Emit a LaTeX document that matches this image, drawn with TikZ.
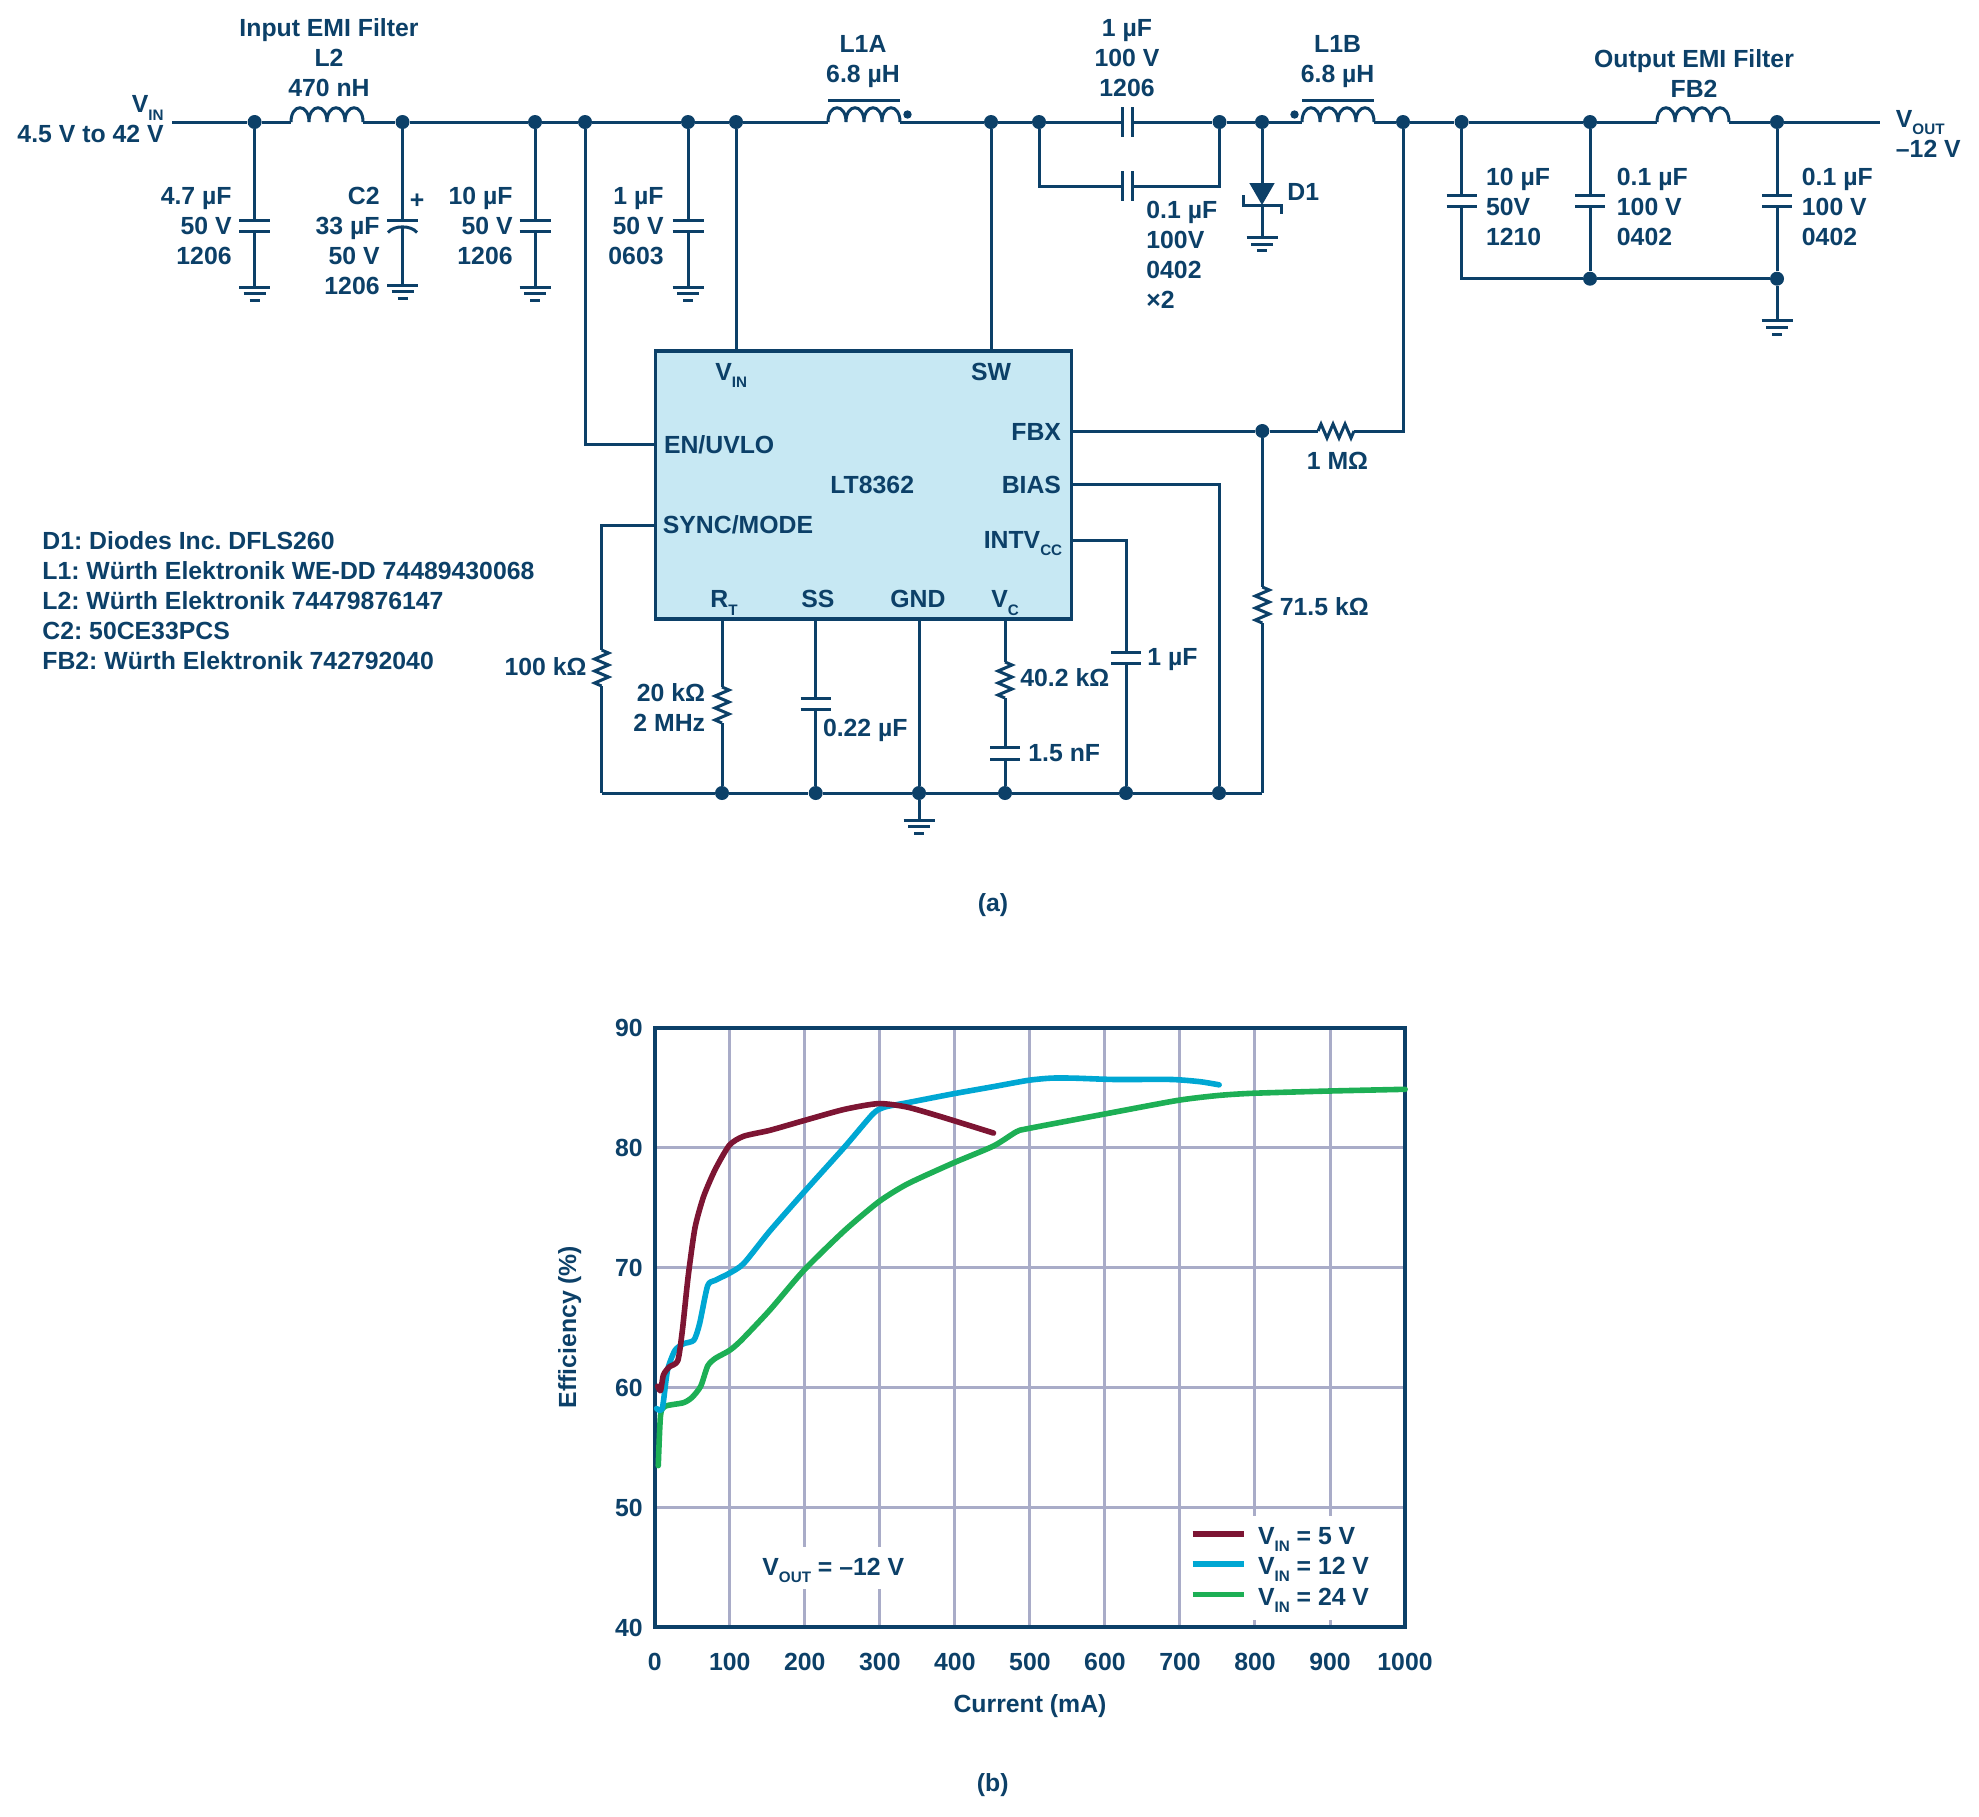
\documentclass[tikz,border=0pt]{standalone}
\usepackage{fontspec}
\setmainfont{Liberation Sans}
\usetikzlibrary{calc}
\definecolor{ink}{HTML}{0C4068}
\definecolor{icfill}{HTML}{C7E8F3}
\definecolor{gridc}{HTML}{A9ACC8}
\definecolor{cfive}{HTML}{7D1533}
\definecolor{ctwelve}{HTML}{00A7D3}
\definecolor{cfour}{HTML}{1DAF55}
\newcommand\SBS[1]{\raisebox{-0.3em}{\fontsize{7.6}{7.6}\selectfont #1}}
\tikzset{
 wire/.style={draw=ink,line width=1.5pt},
 jn/.style={circle,fill=ink,minimum size=7pt,inner sep=0pt},
 lbl/.style={text=ink,inner sep=0pt,font=\bfseries\frenchspacing\fontsize{12.4}{15}\selectfont},
 lr/.style={lbl,anchor=base east,align=right},
 ll/.style={lbl,anchor=base west,align=left},
 lc/.style={lbl,anchor=base,align=center},
 icbox/.style={draw=ink,fill=icfill,line width=1.7pt,minimum width=208pt,minimum height=134pt,inner sep=0pt},
 gridl/.style={draw=gridc,line width=1.5pt},
 curve/.style={line width=2.8pt,line join=round,line cap=round}
}
% vertical capacitor: name, x, plate y1, plate y2, half width
\newcommand\VC[5]{\coordinate (#1-t) at (#2,#3);\coordinate (#1-b) at (#2,#4);
 \draw[wire] (#2-#5,#3) -- (#2+#5,#3) (#2-#5,#4) -- (#2+#5,#4);}
% horizontal capacitor: name, x1, x2, y, half height
\newcommand\HC[5]{\coordinate (#1-l) at (#2,#4);\coordinate (#1-r) at (#3,#4);
 \draw[wire] (#2,#4-#5) -- (#2,#4+#5) (#3,#4-#5) -- (#3,#4+#5);}
% ground: name, x, y
\newcommand\GNDS[3]{\coordinate (#1) at (#2,#3);
 \draw[wire] (#2-15.5,#3) -- (#2+15.5,#3) (#2-11,#3+6.7) -- (#2+11,#3+6.7) (#2-5,#3+13.4) -- (#2+5,#3+13.4);}
% inductor: name, x1, y (72 long)
\newcommand\IND[3]{\coordinate (#1-l) at (#2,#3);
 \draw[wire] (#2,#3) .. controls (#2,#3-19) and (#2+18,#3-19) .. (#2+18,#3)
  .. controls (#2+18,#3-19) and (#2+36,#3-19) .. (#2+36,#3)
  .. controls (#2+36,#3-19) and (#2+54,#3-19) .. (#2+54,#3)
  .. controls (#2+54,#3-19) and (#2+72,#3-19) .. (#2+72,#3) coordinate (#1-r);}
% resistors: name, x, y
\newcommand\VR[3]{\coordinate (#1-t) at (#2,#3);
 \draw[wire] (#2,#3) -- ++(7,3) -- ++(-14,6) -- ++(14,6) -- ++(-14,6) -- ++(14,6) -- ++(-14,6) -- ++(7,3) coordinate (#1-b);}
\newcommand\HR[3]{\coordinate (#1-l) at (#2,#3);
 \draw[wire] (#2,#3) -- ++(3,-7) -- ++(6,14) -- ++(6,-14) -- ++(6,14) -- ++(6,-14) -- ++(6,14) -- ++(3,-7) coordinate (#1-r);}
\begin{document}
\begin{tikzpicture}[x=0.5pt,y=-0.5pt]
\useasboundingbox (0,0) rectangle (1979,1816);
% junctions on the top rail
\coordinate (vinS) at (172,122);
\node[jn] (j1) at (254.6,122) {};
\node[jn] (j2) at (402.5,122) {};
\node[jn] (j3) at (535,122) {};
\node[jn] (j4) at (585,122) {};
\node[jn] (j5) at (688,122) {};
\node[jn] (j6) at (736,122) {};
\node[jn] (j7) at (991,122) {};
\node[jn] (j8) at (1039,122) {};
\node[jn] (j9) at (1219.5,122) {};
\node[jn] (j10) at (1262,122) {};
\node[jn] (j11) at (1403,122) {};
\node[jn] (j12) at (1461.6,122) {};
\node[jn] (j13) at (1590,122) {};
\node[jn] (j14) at (1777,122) {};
\coordinate (voutE) at (1880,122);
\node[jn] (j15) at (1590,278.7) {};
\node[jn] (j16) at (1777,278.7) {};
\coordinate (j17) at (1461.6,278.7);
% inductors
\IND{L2}{291}{122}
\IND{LA}{828}{122}
\IND{LB}{1302}{122}
\IND{FB}{1657}{122}
\draw[wire] (828,100.7) -- (900,100.7) (1302,100.7) -- (1374,100.7);
\node[jn,minimum size=4.2pt] (dotA) at (907.5,114.5) {};
\node[jn,minimum size=4.2pt] (dotB) at (1294.5,114.5) {};
% series capacitors
\HC{Cs}{1122}{1132}{122}{15}
\HC{Cp}{1122}{1132}{186}{15}
% rail
\draw[wire] (vinS) -- (j1) -- (L2-l);
\draw[wire] (L2-r) -- (j2) -- (j3) -- (j4) -- (j5) -- (j6) -- (LA-l);
\draw[wire] (LA-r) -- (j7) -- (j8) -- (Cs-l);
\draw[wire] (Cs-r) -- (j9) -- (j10) -- (LB-l);
\draw[wire] (LB-r) -- (j11) -- (j12) -- (j13) -- (FB-l);
\draw[wire] (FB-r) -- (j14) -- (voutE);
\draw[wire] (j8) |- (Cp-l);
\draw[wire] (Cp-r) -| (j9);
% input capacitors and grounds
\VC{C1}{254.6}{220}{231}{15.5}
\GNDS{g1}{254.6}{287}
\draw[wire] (j1) -- (C1-t) (C1-b) -- (g1);
\coordinate (C2-t) at (402.5,220);
\coordinate (C2-b) at (402.5,227);
\draw[wire] (387,220) -- (418,220);
\draw[wire] (388,232.5) .. controls (394,225) and (411,225) .. (417,232.5);
\GNDS{g2}{402.5}{285}
\draw[wire] (j2) -- (C2-t) (C2-b) -- (g2);
\node[lbl,anchor=base] (plus) at (417,208) {+};
\VC{C3}{535}{220}{231}{15.5}
\GNDS{g3}{535}{287}
\draw[wire] (j3) -- (C3-t) (C3-b) -- (g3);
\VC{C4}{688}{220}{231}{15.5}
\GNDS{g4}{688}{287}
\draw[wire] (j5) -- (C4-t) (C4-b) -- (g4);
% diode
\coordinate (dA) at (1262,183);
\coordinate (dK) at (1262,205);
\GNDS{g5}{1262}{237.5}
\draw[wire] (j10) -- (dA) (dK) -- (g5);
\fill[ink] (1249.3,183) -- (1274.7,183) -- (1262,205) -- cycle;
\draw[wire] (1243,195) -- (1243,205) -- (1281,205) -- (1281,214);
% output capacitors
\VC{C5}{1461.6}{195.7}{206.7}{15}
\VC{C6}{1590}{195.7}{206.7}{15}
\VC{C7}{1777}{195.7}{206.7}{15}
\draw[wire] (j12) -- (C5-t) (C5-b) |- (j15);
\draw[wire] (j13) -- (C6-t) (C6-b) -- (j15);
\draw[wire] (j14) -- (C7-t) (C7-b) -- (j16);
\draw[wire] (j15) -- (j16);
\GNDS{g6}{1777}{320.7}
\draw[wire] (j16) -- (g6);
% IC
\node[icbox] (ic) at (863.3,484.8) {};
\coordinate (pEN) at (ic.west |- 0,444.7);
\coordinate (pSY) at (ic.west |- 0,525);
\coordinate (pFB) at (ic.east |- 0,431);
\coordinate (pBI) at (ic.east |- 0,484.7);
\coordinate (pCC) at (ic.east |- 0,540);
\draw[wire] (j6) -- (j6 |- ic.north);
\draw[wire] (j7) -- (j7 |- ic.north);
\draw[wire] (j4) |- (pEN);
% bottom rail
\coordinate (cL) at (601.6,793);
\node[jn] (b1) at (722,793) {};
\node[jn] (b2) at (815.7,793) {};
\node[jn] (b3) at (919,793) {};
\node[jn] (b4) at (1005,793) {};
\node[jn] (b5) at (1126,793) {};
\node[jn] (b6) at (1219,793) {};
\coordinate (cR) at (1262.3,793);
\draw[wire] (cL) -- (b1) -- (b2) -- (b3) -- (b4) -- (b5) -- (b6) -- (cR);
\VR{R1}{601.6}{650}
\draw[wire] (pSY) -| (R1-t);
\draw[wire] (R1-b) -- (cL);
\VR{R2}{722}{687}
\draw[wire] (b1 |- ic.south) -- (R2-t);
\draw[wire] (R2-b) -- (b1);
\VC{C8}{815.7}{698}{709}{15}
\draw[wire] (b2 |- ic.south) -- (C8-t) (C8-b) -- (b2);
\GNDS{g7}{919}{820}
\draw[wire] (b3 |- ic.south) -- (b3) -- (g7);
\VR{R3}{1005}{662}
\VC{C9}{1005}{747}{759}{15}
\draw[wire] (b4 |- ic.south) -- (R3-t);
\draw[wire] (R3-b) -- (C9-t) (C9-b) -- (b4);
\VC{C10}{1126}{652}{663}{15}
\draw[wire] (pCC) -| (C10-t);
\draw[wire] (C10-b) -- (b5);
\draw[wire] (pBI) -| (b6);
\node[jn] (fbj) at (1262.3,431) {};
\HR{R4}{1318}{431}
\draw[wire] (pFB) -- (fbj) -- (R4-l);
\draw[wire] (R4-r) -| (j11);
\VR{R5}{1262.3}{587}
\draw[wire] (fbj) -- (R5-t);
\draw[wire] (R5-b) -- (cR);
% schematic labels (anchored on the baseline of their last line)
\node[lc] (t1) at (329,96) {Input EMI Filter\\L2\\470 nH};
\node[lr] (t2) at (164,142.7) {V\SBS{IN}\\4.5 V to 42 V};
\node[lr] (t3) at (232,264) {4.7 µF\\50 V\\1206};
\node[lr] (t4) at (380,294) {C2\\33 µF\\50 V\\1206};
\node[lr] (t5) at (513,264) {10 µF\\50 V\\1206};
\node[lr] (t6) at (664,264) {1 µF\\50 V\\0603};
\node[lc] (t7) at (863,82) {L1A\\6.8 µH};
\node[lc] (t8) at (1127,96) {1 µF\\100 V\\1206};
\node[lc] (t9) at (1337.6,82) {L1B\\6.8 µH};
\node[lc] (t10) at (1694,97) {Output EMI Filter\\FB2};
\node[ll] (t11) at (1895.5,157) {V\SBS{OUT}\\–12 V};
\node[ll] (t12) at (1146,308) {0.1 µF\\100V\\0402\\×2};
\node[ll] (t13) at (1287,200.7) {D1};
\node[ll] (t14) at (1485.7,245.5) {10 µF\\50V\\1210};
\node[ll] (t15) at (1616.5,245.5) {0.1 µF\\100 V\\0402};
\node[ll] (t16) at (1801.5,245.5) {0.1 µF\\100 V\\0402};
\node[ll] (i1) at (715,380) {V\SBS{IN}};
\node[ll] (i2) at (970.7,380) {SW};
\node[ll] (i3) at (663.6,453) {EN/UVLO};
\node[lr] (i4) at (1061.4,440) {FBX};
\node[ll] (i5) at (830,493.7) {LT8362};
\node[lr] (i6) at (1061.4,493.7) {BIAS};
\node[ll] (i7) at (662.5,533.7) {SYNC/MODE};
\node[lr] (i8) at (1062.6,548) {INTV\SBS{CC}};
\node[ll] (i9) at (710,607.7) {R\SBS{T}};
\node[ll] (i10) at (801,607.7) {SS};
\node[ll] (i11) at (890,607.7) {GND};
\node[ll] (i12) at (991,607.7) {V\SBS{C}};
\node[ll] (v1) at (1306.5,469) {1 MΩ};
\node[ll] (v2) at (1279.5,615) {71.5 kΩ};
\node[ll] (v3) at (1147,665.7) {1 µF};
\node[ll] (v4) at (1020,686.7) {40.2 kΩ};
\node[ll] (v5) at (1028,761.7) {1.5 nF};
\node[ll] (v6) at (822.6,736.7) {0.22 µF};
\node[lr] (v7) at (705.5,731.7) {20 kΩ\\2 MHz};
\node[lr] (v8) at (587,675) {100 kΩ};
\node[ll] (bom) at (42,669.3) {D1: Diodes Inc. DFLS260\\L1: Würth Elektronik WE-DD 74489430068\\L2: Würth Elektronik 74479876147\\C2: 50CE33PCS\\FB2: Würth Elektronik 742792040};
\node[lc] (capa) at (993,911) {(a)};
% chart
\foreach \i in {1,...,9} {\draw[gridl] ({654.8+75.02*\i},1027.7) -- ({654.8+75.02*\i},1627);}
\foreach \i in {1,...,4} {\draw[gridl] (654.8,{1627.3-119.9*\i}) -- (1405,{1627.3-119.9*\i});}
\fill[white] (761,1547) rectangle (907,1589);
\fill[white] (1189,1516) rectangle (1403,1620);
\draw[ink,line width=1.8pt] (654.8,1027.7) rectangle (1405,1627);
\begin{scope}[shift={(540,1000)},x=0.28703pt,y=-0.22321pt]
\draw[curve,cfour] plot[smooth,tension=0.4] coordinates {(206,1043)(210,930)(218,910)(250,902)(265,890)(280,865)(292,820)(305,803)(330,785)(350,763)(400,695)(460,605)(530,517)(590,452)(640,412)(720,365)(790,327)(830,295)(850,288)(985,255)(1110,225)(1180,214)(1240,209)(1370,204)(1507,200)};
\draw[curve,ctwelve] plot[smooth,tension=0.4] coordinates {(203,915)(213,915)(222,830)(235,785)(250,770)(268,762)(278,725)(292,640)(305,628)(330,612)(355,590)(400,518)(460,430)(530,330)(580,255)(600,240)(640,230)(720,210)(790,194)(850,180)(890,175)(930,175)(1000,178)(1100,178)(1150,183)(1183,190)};
\draw[curve,cfive] plot[smooth,tension=0.4] coordinates {(205,865)(210,875)(215,840)(225,822)(240,808)(248,740)(258,620)(270,510)(285,440)(305,380)(330,325)(355,305)(400,292)(460,270)(530,245)(590,232)(640,240)(700,262)(790,298)};
\end{scope}
\foreach \v [count=\k from 0] in {40,50,60,70,80,90} {\node[lr] (yl\k) at (643,{1627.3-119.9*\k+8.8}) {\v};}
\foreach \v [count=\k from 0] in {0,100,200,300,400,500,600,700,800,900,1000} {\node[lc] (xl\k) at ({654.8+75.02*\k},1670) {\v};}
\node[lc,rotate=90] (ylab) at (576,1327) {Efficiency (\%)};
\node[lc] (xlab) at (1030,1712.7) {Current (mA)};
\node[ll] (vo) at (762,1575) {V\SBS{OUT} = –12 V};
\coordinate (k1a) at (1192.7,1534);\coordinate (k1b) at (1243.8,1534);
\coordinate (k2a) at (1192.7,1564);\coordinate (k2b) at (1243.8,1564);
\coordinate (k3a) at (1192.7,1594.6);\coordinate (k3b) at (1243.8,1594.6);
\draw[curve,line cap=butt,cfive] (k1a) -- (k1b);
\draw[curve,line cap=butt,ctwelve] (k2a) -- (k2b);
\draw[curve,line cap=butt,cfour] (k3a) -- (k3b);
\node[ll] (k1) at (1257.6,1544) {V\SBS{IN} = 5 V};
\node[ll] (k2) at (1257.6,1574) {V\SBS{IN} = 12 V};
\node[ll] (k3) at (1257.6,1605) {V\SBS{IN} = 24 V};
\node[lc] (capb) at (992.7,1791.7) {(b)};
\end{tikzpicture}
\end{document}
